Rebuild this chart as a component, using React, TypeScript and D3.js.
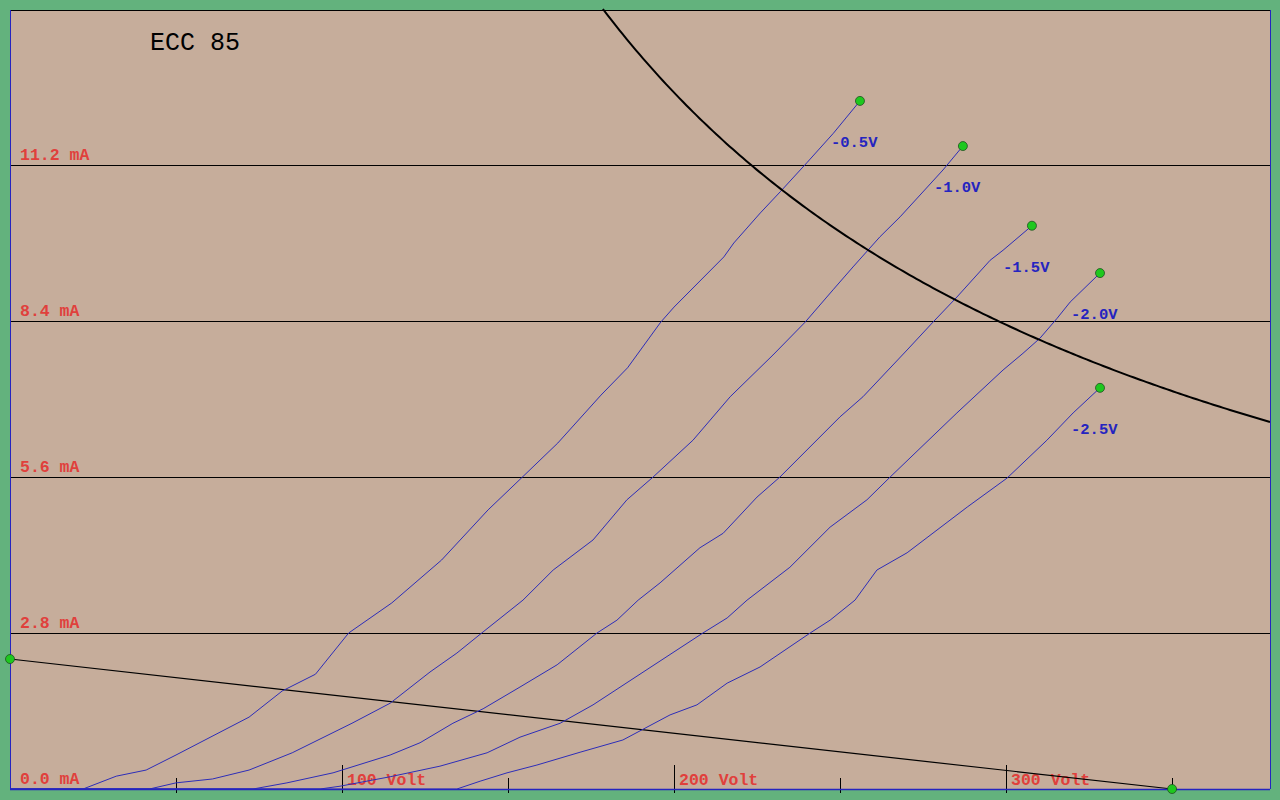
import React from "react";
import * as d3 from "d3";

// ---- data ----
const TITLE = "ECC 85";
const gridCurrents = [2.8, 5.6, 8.4, 11.2];
const axisCurrentLabel = [0.0, 2.8, 5.6, 8.4, 11.2];
const voltTicks = [50, 100, 150, 200, 250, 300, 350];
const voltLabels = [100, 200, 300];

const gridVolts = ["-0.5V", "-1.0V", "-1.5V", "-2.0V", "-2.5V"];

const c05V = [0, 22, 32, 41, 50, 72, 82, 92, 102, 115, 130, 144, 154, 165, 178, 186, 196, 200, 215, 218, 226, 232, 240, 248, 256];
const c05I = [0, 0, 0.23, 0.34, 0.61, 1.29, 1.76, 2.06, 2.8, 3.34, 4.11, 5.01, 5.58, 6.21, 7.07, 7.56, 8.38, 8.65, 9.55, 9.8, 10.34, 10.72, 11.24, 11.77, 12.35];

const c10V = [0, 42, 50, 61, 72, 85, 103, 114.5, 126.5, 134.6, 142.5, 154.5, 163.6, 175.6, 185.8, 193.7, 205.7, 216.9, 229.8, 239.5, 247.9, 253.9, 262, 268.1, 281, 287];
const c10I = [0, 0, 0.11, 0.18, 0.34, 0.65, 1.18, 1.54, 2.1, 2.44, 2.82, 3.39, 3.93, 4.47, 5.19, 5.6, 6.26, 7.04, 7.79, 8.38, 8.96, 9.37, 9.91, 10.27, 11.11, 11.54];

const c15V = [0, 73.2, 83.4, 97.3, 114.5, 123.5, 133.4, 142.5, 153.6, 164.8, 176.8, 182.8, 189.2, 195.8, 207.8, 214.8, 225, 231.9, 250, 256.9, 270.2, 278, 285.2, 295.2, 299.1, 307.8];
const c15I = [0, 0, 0.11, 0.29, 0.61, 0.83, 1.18, 1.44, 1.83, 2.23, 2.8, 3.03, 3.39, 3.7, 4.33, 4.59, 5.24, 5.6, 6.68, 7.04, 7.88, 8.38, 8.83, 9.49, 9.67, 10.11];

const c20V = [0, 93.4, 99.4, 114.5, 129.5, 143.7, 153.6, 165.7, 175.6, 208.7, 216, 222, 234.9, 247, 258.1, 265.1, 285.2, 299.1, 305.1, 310.2, 315.4, 319.3, 328.3];
const c20I = [0, 0, 0.05, 0.22, 0.41, 0.65, 0.93, 1.18, 1.51, 2.8, 3.07, 3.39, 3.98, 4.7, 5.19, 5.6, 6.75, 7.52, 7.82, 8.09, 8.45, 8.74, 9.26];

const c25V = [0, 134.6, 141.6, 149.7, 158.7, 171.7, 184.6, 198.8, 206.9, 216, 225.9, 241, 247, 254.5, 261.1, 270.2, 288.3, 300.3, 312.3, 320.2, 328.3];
const c25I = [0, 0, 0.14, 0.29, 0.43, 0.66, 0.88, 1.33, 1.51, 1.9, 2.19, 2.8, 3.03, 3.39, 3.93, 4.24, 5.06, 5.58, 6.26, 6.75, 7.2];

const curveVs = [c05V, c10V, c15V, c20V, c25V];
const curveIs = [c05I, c10I, c15I, c20I, c25I];

// load line: B+ 350 V, 150 kOhm
const loadV = [0, 350];
const loadI = [2.333, 0];

// max anode dissipation (W)
const P_MAX = 2.5;

// ---- layout ----
const W = 1280;
const H = 800;
const L = 10, R = 1270, T = 10, B = 789;

const COLORS = {
  outer: "#63b27d",
  plot: "#c6ad9b",
  red: "#e0403c",
  blue: "#2424c0",
  curve: "#2d2db8",
  dot: "#1ec81e",
};

export default function App() {
  const x = d3.scaleLinear().domain([0, 379.5]).range([L, R]);
  const y = d3.scaleLinear().domain([0, 14]).range([B, T - 1]);

  const line = d3
    .line<[number, number]>()
    .x((d) => x(d[0]))
    .y((d) => y(d[1]));

  const curves = curveVs.map((vs, k) =>
    vs.map((v, i) => [v, curveIs[k][i]] as [number, number])
  );

  const vStart = P_MAX * 1000 / 14;
  const hyper: [number, number][] = d3
    .range(0, 201)
    .map((i) => {
      const v = vStart + ((379.5 - vStart) * i) / 200;
      return [v, (P_MAX * 1000) / v];
    });

  const loadPts = loadV.map((v, i) => [v, loadI[i]] as [number, number]);

  const mono = "'Liberation Mono', 'DejaVu Sans Mono', monospace";

  return (
    <div style={{ position: "absolute", left: 0, top: 0, width: W, height: H }}>
      <svg width={W} height={H} style={{ display: "block" }}>
        <rect x={0} y={0} width={W} height={H} fill={COLORS.outer} />
        <rect x={L} y={T} width={R - L} height={B - T} fill={COLORS.plot} />

        {/* grid lines */}
        {gridCurrents.map((c) => (
          <line
            key={c}
            x1={L}
            x2={R}
            y1={Math.round(y(c)) + 0.5}
            y2={Math.round(y(c)) + 0.5}
            stroke="#000"
            strokeWidth={1}
          />
        ))}

        {/* current labels */}
        {axisCurrentLabel.map((c) => (
          <text
            key={c}
            x={20}
            y={Math.round(y(c)) - 5}
            fill={COLORS.red}
            fontFamily={mono}
            fontSize={16.5}
            fontWeight="bold"
          >
            {c.toFixed(1) + " mA"}
          </text>
        ))}

        {/* volt ticks */}
        {voltTicks.map((v) => (
          <line
            key={v}
            x1={Math.round(x(v)) + 0.5}
            x2={Math.round(x(v)) + 0.5}
            y1={v % 100 === 0 ? 765 : 778}
            y2={793}
            stroke="#000"
            strokeWidth={1}
          />
        ))}
        {voltLabels.map((v) => (
          <text
            key={v}
            x={x(v) + 5}
            y={785}
            fill={COLORS.red}
            fontFamily={mono}
            fontSize={16.5}
            fontWeight="bold"
          >
            {v + " Volt"}
          </text>
        ))}

        {/* load line */}
        <path d={line(loadPts) || ""} fill="none" stroke="#000" strokeWidth={1.2} />

        {/* characteristic curves */}
        {curves.map((pts, k) => (
          <path key={k} d={line(pts) || ""} fill="none" stroke={COLORS.curve} strokeWidth={1} />
        ))}

        {/* dissipation hyperbola */}
        <path d={line(hyper) || ""} fill="none" stroke="#000" strokeWidth={2} />

        {/* frame */}
        <line x1={L} x2={R} y1={T + 0.5} y2={T + 0.5} stroke="#000" strokeWidth={1} />
        <line x1={L + 0.5} x2={L + 0.5} y1={T} y2={B} stroke={COLORS.blue} strokeWidth={1} />
        <line x1={R + 0.5} x2={R + 0.5} y1={T} y2={B} stroke={COLORS.blue} strokeWidth={1} />
        <line x1={L} x2={R} y1={B + 0.5} y2={B + 0.5} stroke={COLORS.blue} strokeWidth={1.5} />

        {/* end dots and labels */}
        {curves.map((pts, k) => {
          const last = pts[pts.length - 1];
          const cx = x(last[0]);
          const cy = y(last[1]);
          return (
            <g key={k}>
              <circle cx={cx} cy={cy} r={4.5} fill={COLORS.dot} stroke="#205020" strokeWidth={0.8} />
              <text
                x={cx - 29}
                y={cy + 46}
                fill={COLORS.blue}
                fontFamily={mono}
                fontSize={15.5}
                fontWeight="bold"
              >
                {gridVolts[k]}
              </text>
            </g>
          );
        })}

        {/* load line end dots */}
        {loadPts.map((p, i) => (
          <circle key={i} cx={x(p[0])} cy={y(p[1])} r={4.5} fill={COLORS.dot} stroke="#205020" strokeWidth={0.8} />
        ))}

        {/* title */}
        <text x={150} y={50} fill="#000" fontFamily={mono} fontSize={25}>
          {TITLE}
        </text>
      </svg>
    </div>
  );
}
